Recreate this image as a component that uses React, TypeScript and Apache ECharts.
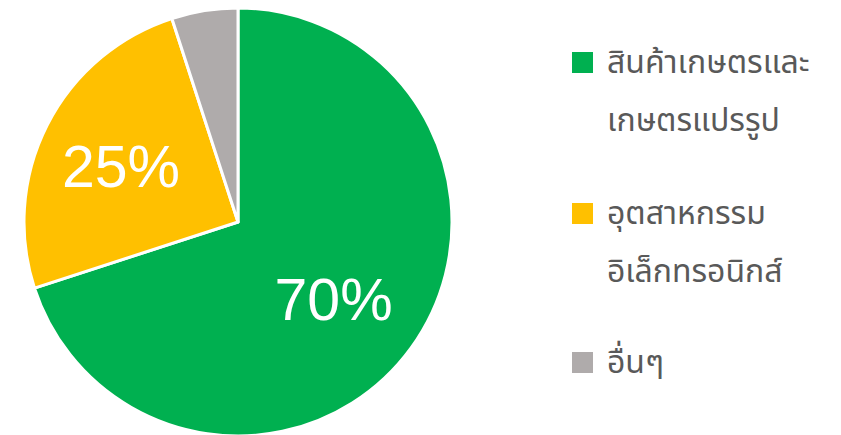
import React, { useEffect, useRef } from "react";
import * as echarts from "echarts";

const categories = ["สินค้าเกษตรและ\nเกษตรแปรรูป", "อุตสาหกรรม\nอิเล็กทรอนิกส์", "อื่นๆ"];
const values = [70, 25, 5];
const colors = ["#00B050", "#FFC000", "#AFABAB"];
const labelShown = [true, true, false];
const labelOffsets = [[-8, 3], [-3, 3], [0, 0]];

export default function App() {
  const ref = useRef<HTMLDivElement>(null);
  useEffect(() => {
    if (!ref.current) return;
    const chart = echarts.init(ref.current, null, { renderer: "svg" });
    const legendTops = [62, 213, 362];
    const lineH = 58;
    const graphic: any[] = [];
    categories.forEach((c, i) => {
      graphic.push({
        type: "rect",
        shape: { x: 572, y: legendTops[i] - 10, width: 21, height: 21 },
        style: { fill: colors[i] },
      });
      c.split("\n").forEach((line, j) => {
        graphic.push({
          type: "text",
          x: 607,
          y: legendTops[i] + 1 + j * lineH,
          style: {
            text: line,
            fill: "#595959",
            font: "32px 'Noto Sans Thai', 'Noto Sans', sans-serif",
            verticalAlign: "middle",
            align: "left",
          },
        });
      });
    });
    chart.setOption({
      animation: false,
      graphic,
      series: [
        {
          type: "pie",
          center: [238, 222],
          radius: 214,
          startAngle: 90,
          clockwise: true,
          label: { show: false },
          labelLine: { show: false },
          itemStyle: { borderColor: "#fff", borderWidth: 3 },
          data: values.map((v, i) => ({ name: categories[i], value: v, itemStyle: { color: colors[i] } })),
        },
        {
          type: "pie",
          center: [238, 222],
          radius: 250,
          startAngle: 90,
          clockwise: true,
          silent: true,
          z: 5,
          itemStyle: { color: "transparent", borderWidth: 0 },
          labelLine: { show: false },
          label: {
            position: "inside",
            color: "#fff",
            fontSize: 59,
            fontFamily: "'Liberation Sans', Arial, sans-serif",
            formatter: (p: any) => p.value + "%",
          },
          data: values.map((v, i) => ({
            name: "l" + i,
            value: v,
            label: { show: labelShown[i], offset: labelOffsets[i] },
          })),
        },
      ],
    });
    return () => chart.dispose();
  }, []);
  return <div ref={ref} style={{ width: 841, height: 435, position: "absolute", left: 0, top: 0 }} />;
}
